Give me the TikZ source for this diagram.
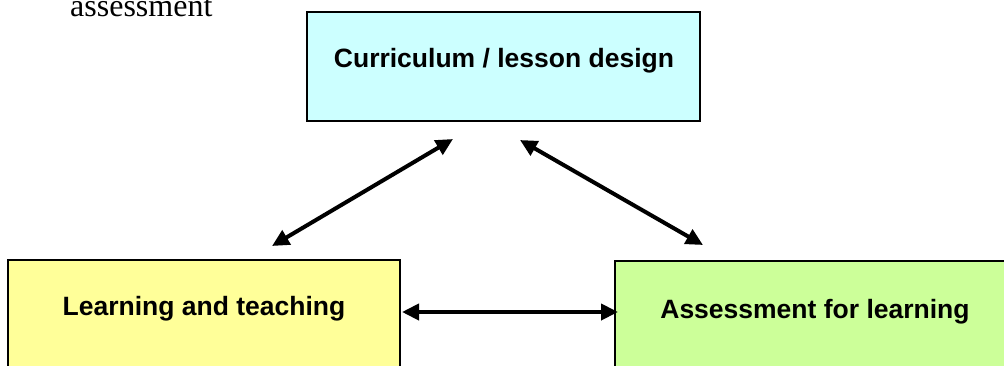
\documentclass[tikz,border=0pt]{standalone}
\usepackage{fontspec}
\setmainfont{Liberation Serif}
\newfontfamily\arialfont{Liberation Sans}
\usetikzlibrary{arrows.meta}
\definecolor{cyanbox}{HTML}{CCFFFF}
\definecolor{yellowbox}{HTML}{FFFF99}
\definecolor{greenbox}{HTML}{CCFF99}
\begin{document}
\begin{tikzpicture}[x=1pt,y=-1pt,
  box/.style={draw=black,line width=2pt,inner sep=0pt,outer sep=0pt,anchor=north west},
  lbl/.style={font=\arialfont\bfseries\fontsize{26.5}{30}\selectfont,anchor=base,inner sep=0pt},
  arr/.style={line width=4pt,{Triangle[length=17pt,width=16pt]}-{Triangle[length=17pt,width=16pt]}}]
\useasboundingbox (0,0) rectangle (1004,365);
\clip (0,0) rectangle (1004,365);
\node[font=\fontsize{32}{36}\selectfont,anchor=base west,inner sep=0pt] (ass) at (70,16) {assessment};
\node[box,fill=cyanbox,minimum width=393pt,minimum height=109pt] (cur) at (307,12) {};
\node[box,fill=yellowbox,minimum width=392pt,minimum height=160pt] (lt) at (8,260) {};
\node[box,fill=greenbox,minimum width=400pt,minimum height=160pt] (afl) at (615,261) {};
\node[lbl] (curtxt) at (504,67) {Curriculum / lesson design};
\node[lbl] (lttxt) at (204,315) {Learning and teaching};
\node[lbl] (afltxt) at (815,318) {Assessment for learning};
\coordinate (a1s) at (272,246);
\coordinate (a1e) at (453,139);
\coordinate (a2s) at (520,140);
\coordinate (a2e) at (703,245);
\coordinate (a3) at (0,312);
\draw[arr] (a1s) -- (a1e);
\draw[arr] (a2s) -- (a2e);
\draw[arr] ([xshift=2pt]lt.east |- a3) -- ([xshift=3pt]afl.west |- a3);
\end{tikzpicture}
\end{document}
